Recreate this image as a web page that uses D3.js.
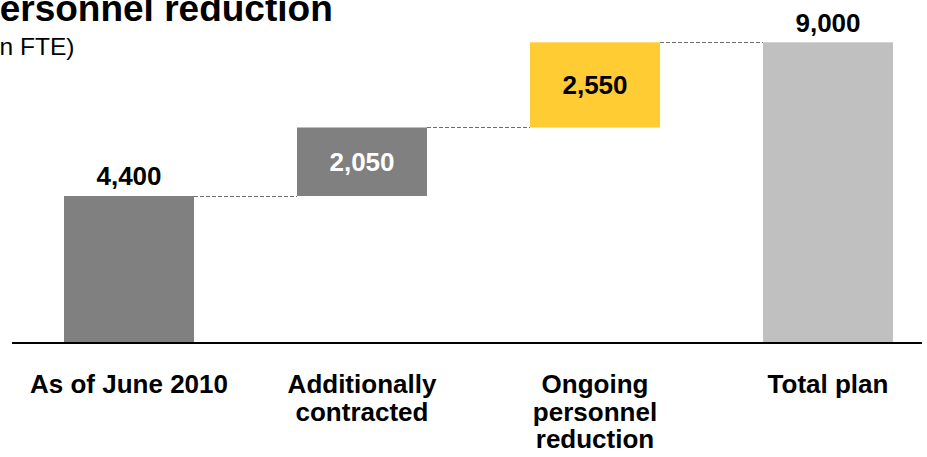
<!DOCTYPE html>
<html>
<head>
<meta charset="utf-8">
<script src="https://cdn.jsdelivr.net/npm/d3@7"></script>
<style>
  html, body { margin: 0; padding: 0; background: #fff; }
  svg { display: block; font-family: "Liberation Sans", Arial, sans-serif; }
</style>
</head>
<body>
<svg id="chart" width="927" height="457"></svg>
<script>
const categories = [["As of June 2010"], ["Additionally", "contracted"], ["Ongoing", "personnel", "reduction"], ["Total plan"]];
const values = [4400, 2050, 2550, 9000];
const valueLabels = ["4,400", "2,050", "2,550", "9,000"];
const kinds = ["total", "delta", "delta", "total"];
const colors = ["#808080", "#808080", "#FFCC33", "#C0C0C0"];
const labelColors = ["#000", "#fff", "#000", "#000"];

const svg = d3.select("#chart");
const baseY = 343;

// compute waterfall segments
let running = 0;
const bars = values.map((v, i) => {
  let y0, y1;
  if (kinds[i] === "total") { y0 = 0; y1 = v; running = v; }
  else { y0 = running; y1 = running + v; running = y1; }
  return { i, y0, y1, v };
});

const x = d3.scaleBand().domain(d3.range(values.length)).range([64, 893]).paddingInner(0.442).paddingOuter(0);
const y = d3.scaleLinear().domain([0, 9000]).range([baseY, 42.3]);

// title
svg.append("text").attr("x", -25).attr("y", 21).attr("font-size", 37).attr("font-weight", "bold").attr("fill", "#000").text("Personnel reduction");
svg.append("text").attr("x", -14).attr("y", 55).attr("font-size", 24.5).attr("fill", "#000").text("(in FTE)");

// connectors
for (let i = 0; i < bars.length - 1; i++) {
  const top = bars[i].y1;
  svg.append("line")
    .attr("x1", x(i) + x.bandwidth()).attr("x2", x(i + 1))
    .attr("y1", Math.round(y(top)) + 0.5).attr("y2", Math.round(y(top)) + 0.5)
    .attr("stroke", "#6e6e6e").attr("stroke-width", 1.2).attr("stroke-dasharray", "4,2");
}

// bars
svg.selectAll("rect.bar").data(bars).enter().append("rect")
  .attr("class", "bar")
  .attr("x", d => x(d.i)).attr("width", x.bandwidth())
  .attr("y", d => y(d.y1)).attr("height", d => y(d.y0) - y(d.y1))
  .attr("fill", d => colors[d.i]);

// value labels
svg.selectAll("text.val").data(bars).enter().append("text")
  .attr("class", "val")
  .attr("x", d => x(d.i) + x.bandwidth() / 2)
  .attr("y", d => kinds[d.i] === "total" ? y(d.y1) - 10.5 : (y(d.y0) + y(d.y1)) / 2 + 9.5)
  .attr("text-anchor", "middle").attr("font-size", 26).attr("font-weight", "bold")
  .attr("fill", d => labelColors[d.i]).text(d => valueLabels[d.i]);

// axis baseline
svg.append("line").attr("x1", 12).attr("x2", 922).attr("y1", baseY).attr("y2", baseY)
  .attr("stroke", "#000").attr("stroke-width", 2);

// category labels
categories.forEach((lines, i) => {
  const t = svg.append("text").attr("text-anchor", "middle").attr("font-size", 26).attr("font-weight", "bold").attr("fill", "#000");
  lines.forEach((ln, j) => {
    t.append("tspan").attr("x", x(i) + x.bandwidth() / 2).attr("y", 393 + j * 27.5).text(ln);
  });
});
</script>
</body>
</html>
